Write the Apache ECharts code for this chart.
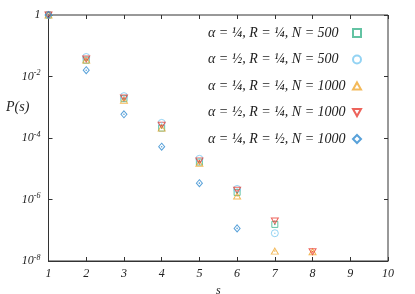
<!DOCTYPE html>
<html><head><meta charset="utf-8">
<script src="https://cdn.jsdelivr.net/npm/echarts@6/dist/echarts.min.js"></script>
<style>html,body{margin:0;background:#fff}#c{width:415px;height:294px}</style>
</head><body><div id="c"></div>
<script>
// s values
const sValues = [1, 2, 3, 4, 5, 6, 7, 8];
// P(s) per series (null = no point)
const pA14R14N500  = [1, 0.034, 0.0019, 2.1e-4, 1.65e-5, 1.7e-6, 1.55e-7, null];
const pA12R14N500  = [1, 0.043, 0.0023, 3.1e-4, 2.1e-5, 2.2e-6, 8e-8, null];
const pA14R14N1000 = [1, 0.034, 0.0017, 2.1e-4, 1.5e-5, 1.3e-6, 2.1e-8, 2e-8];
const pA12R14N1000 = [1, 0.037, 0.0020, 2.6e-4, 1.8e-5, 2.0e-6, 2.0e-7, 2e-8];
const pA14R12N1000 = [1, 0.016, 5.9e-4, 5.2e-5, 3.4e-6, 1.15e-7, null, null];
const seriesNames = [
  'α = ¼, R = ¼, N = 500',
  'α = ½, R = ¼, N = 500',
  'α = ¼, R = ¼, N = 1000',
  'α = ½, R = ¼, N = 1000',
  'α = ¼, R = ½, N = 1000'
];
const xTickLabels = ['1','2','3','4','5','6','7','8','9','10'];

const seriesData = [pA14R14N500, pA12R14N500, pA14R14N1000, pA12R14N1000, pA14R12N1000];
const colors = ['#3cb48c', '#78c8f0', '#f0a830', '#e83c32', '#2e8ad0'];
const symbols = ['rect', 'circle', 'path://M5,0 L10,9 L0,9 Z', 'path://M0,0 L10,0 L5,9 Z', 'diamond'];
const sizes = [[6,6], [7,7], [7,6], [7,6], [6,7]];

const font = '"Liberation Serif", "DejaVu Serif", serif';
const chart = echarts.init(document.getElementById('c'), null, {renderer: 'canvas'});

const series = seriesData.map((arr, i) => ({
  name: seriesNames[i],
  type: 'scatter',
  xAxisIndex: 0, yAxisIndex: 0,
  symbol: symbols[i],
  symbolSize: sizes[i],
  itemStyle: {color: 'rgba(255,255,255,0)', borderColor: colors[i], borderWidth: 1},
  emphasis: {disabled: true},
  data: sValues.map((s, k) => arr[k] == null ? null : [s, arr[k]]).filter(d => d)
}));
// small centre dots
seriesData.forEach((arr, i) => {
  series.push({
    type: 'scatter', silent: true,
    symbol: 'circle', symbolSize: 1.6,
    itemStyle: {color: colors[i]},
    data: sValues.map((s, k) => arr[k] == null ? null : [s, arr[k]]).filter(d => d)
  });
});

const tickStyle = {show: true, inside: true, length: 4, lineStyle: {color: '#333'}};
chart.setOption({
  animation: false,
  backgroundColor: '#fff',
  grid: {left: 48.5, right: 27, top: 15, bottom: 33, show: true, borderColor: '#333', borderWidth: 1,
    outerBoundsMode: 'none', containLabel: false},
  legend: {
    data: seriesNames,
    orient: 'vertical',
    right: 48, top: 21,
    align: 'right',
    itemWidth: 8, itemHeight: 8,
    itemGap: 12.5,
    formatter: n => '{a|' + n + '}',
    textStyle: {fontFamily: font, fontStyle: 'italic', fontSize: 14, color: '#222',
      rich: {a: {fontFamily: font, fontStyle: 'italic', fontSize: 14, color: '#222', width: 140, align: 'left'}}}
  },
  xAxis: [{
    type: 'value', min: 1, max: 10, interval: 1,
    name: 's', nameLocation: 'middle', nameGap: 20,
    nameTextStyle: {fontFamily: font, fontStyle: 'italic', fontSize: 12, color: '#222'},
    axisLine: {lineStyle: {color: '#333'}},
    axisTick: tickStyle,
    splitLine: {show: false},
    axisLabel: {fontFamily: font, fontStyle: 'italic', fontSize: 12, color: '#222', margin: 7,
      formatter: v => xTickLabels[v - 1]}
  }, {
    type: 'value', min: 1, max: 10, interval: 1, position: 'top',
    axisLine: {show: false}, axisTick: tickStyle, axisLabel: {show: false}, splitLine: {show: false}
  }],
  yAxis: [{
    type: 'log', logBase: 10, min: 1e-8, max: 1, interval: 2,
    axisLine: {lineStyle: {color: '#333'}},
    axisTick: tickStyle,
    splitLine: {show: false},
    minorTick: {show: false},
    axisLabel: {
      fontFamily: font, fontStyle: 'italic', fontSize: 12, color: '#222', margin: 8,
      formatter: v => {
        const e = Math.round(Math.log10(v));
        return e === 0 ? '1' : '{b|10}{s|' + e + '}';
      },
      rich: {
        b: {fontFamily: font, fontStyle: 'italic', fontSize: 12, color: '#222'},
        s: {fontFamily: font, fontStyle: 'italic', fontSize: 8, color: '#222', padding: [0, 0, 7, 0]}
      }
    }
  }, {
    type: 'log', logBase: 10, min: 1e-8, max: 1, interval: 2, position: 'right',
    axisLine: {show: false}, axisTick: tickStyle, axisLabel: {show: false}, splitLine: {show: false}
  }],
  graphic: [{
    type: 'text', left: 6, top: 100,
    style: {text: 'P(s)', font: 'italic 14px ' + font, fill: '#222'}
  }],
  series: series
});
</script></body></html>
